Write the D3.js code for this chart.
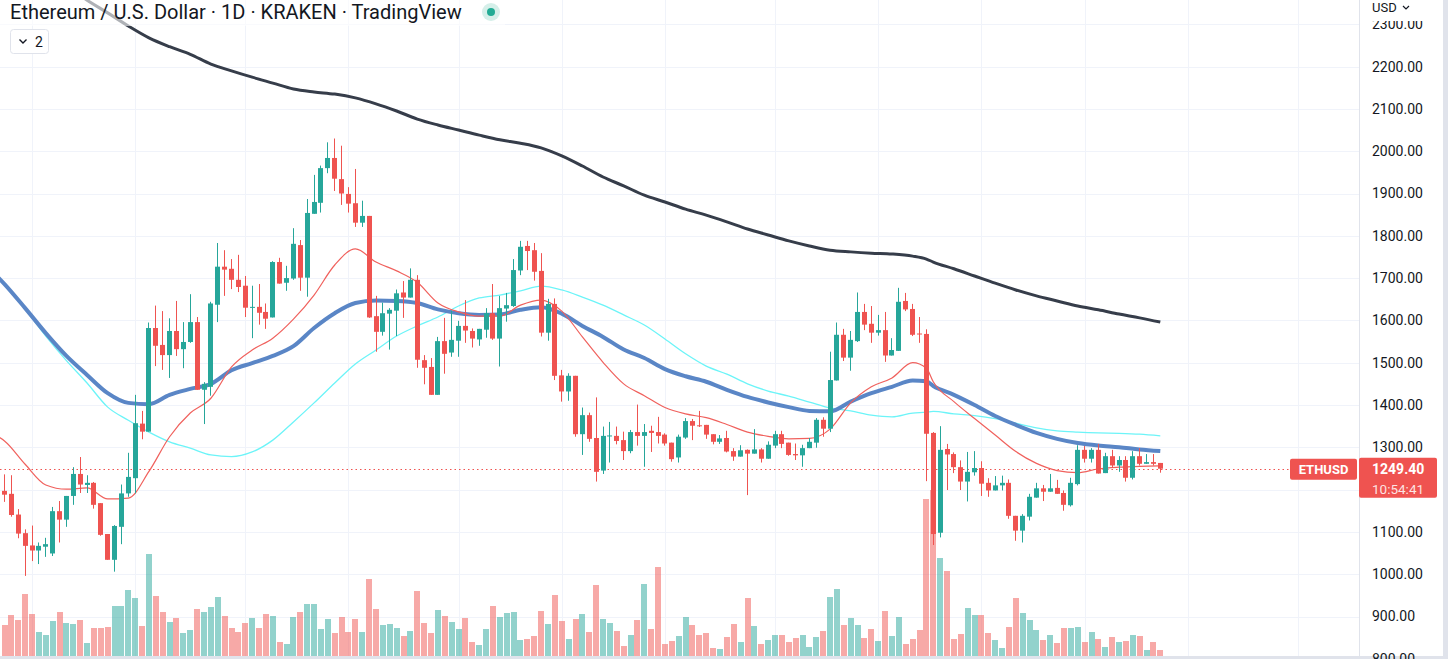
<!DOCTYPE html>
<html><head><meta charset="utf-8">
<script src="https://cdn.jsdelivr.net/npm/d3@7/dist/d3.min.js"></script>
<style>html,body{margin:0;padding:0;background:#fff;overflow:hidden}svg{display:block}</style>
</head><body><svg id="c" width="1448" height="659"></svg>
<script>
// ---- data (daily candles, ETH/USD Kraken) ----
const opens=[1197,1190,1141,1097,1068,1056,1065,1049,1149,1129,
1185,1237,1211,1216,1168,1095,1034,1112,1191,1227,
1356,1337,1582,1542,1518,1575,1532,1549,1596,1436,
1443,1637,1727,1722,1696,1682,1630,1632,1620,1607,
1738,1689,1699,1778,1701,1852,1878,1960,1984,1934,
1899,1877,1831,1847,1610,1573,1616,1623,1666,1654,
1696,1506,1490,1424,1551,1524,1552,1587,1575,1555,
1578,1617,1557,1628,1634,1718,1776,1766,1717,1571,
1639,1470,1432,1469,1331,1376,1322,1245,1327,1327,
1317,1291,1336,1327,1339,1336,1330,1311,1276,1323,
1362,1352,1353,1331,1313,1322,1291,1278,1294,1285,
1295,1273,1304,1331,1311,1284,1281,1298,1311,1365,
1344,1458,1566,1512,1551,1620,1592,1571,1577,1517,
1528,1646,1627,1569,1568,1334,1098,1296,1284,1253,
1219,1241,1251,1216,1198,1210,1216,1138,1103,1136,
1181,1203,1195,1204,1192,1163,1213,1294,1273,1294,
1239,1279,1257,1270,1228,1279,1261,1265,1263];
const highs=[1236,1234,1154,1106,1115,1075,1086,1159,1173,1185,
1253,1277,1234,1218,1168,1095,1116,1212,1287,1424,
1386,1595,1635,1622,1605,1646,1596,1662,1608,1454,
1644,1783,1766,1745,1755,1705,1682,1686,1640,1740,
1748,1729,1818,1790,1887,1944,1966,2021,2030,2013,
1915,1958,1883,1847,1658,1642,1629,1673,1693,1723,
1707,1518,1511,1561,1606,1623,1599,1648,1581,1580,
1629,1686,1658,1665,1745,1788,1788,1783,1759,1651,
1652,1483,1475,1469,1394,1382,1418,1349,1360,1349,
1337,1341,1401,1355,1351,1372,1333,1311,1330,1369,
1367,1386,1353,1331,1329,1339,1298,1305,1295,1343,
1298,1314,1339,1339,1311,1309,1306,1322,1369,1371,
1526,1595,1580,1575,1666,1639,1634,1613,1620,1558,
1677,1665,1639,1608,1579,1336,1350,1308,1288,1269,
1289,1291,1267,1227,1232,1233,1224,1138,1142,1190,
1216,1211,1237,1223,1198,1228,1305,1303,1298,1308,
1287,1294,1279,1279,1291,1298,1284,1284,1263];
const lows=[1171,1136,1085,996,1031,1024,1041,1043,1075,1112,
1164,1192,1192,1155,1091,1034,1006,1071,1183,1191,
1319,1337,1492,1483,1464,1516,1487,1547,1436,1355,
1422,1596,1658,1674,1667,1608,1558,1590,1580,1607,
1687,1670,1696,1670,1656,1852,1855,1948,1906,1873,
1855,1821,1821,1606,1526,1564,1531,1563,1606,1654,
1488,1449,1424,1424,1474,1514,1514,1547,1536,1540,
1559,1554,1491,1597,1632,1707,1719,1694,1562,1552,
1459,1408,1410,1325,1282,1313,1219,1237,1264,1307,
1270,1286,1304,1254,1289,1309,1304,1266,1264,1320,
1317,1348,1320,1307,1308,1288,1268,1278,1187,1285,
1264,1273,1298,1298,1280,1270,1254,1298,1299,1325,
1336,1458,1504,1481,1549,1577,1547,1564,1502,1517,
1528,1622,1563,1547,1220,1069,1087,1199,1239,1199,
1172,1233,1185,1183,1198,1198,1131,1079,1075,1127,
1181,1173,1195,1190,1150,1160,1210,1264,1264,1238,
1239,1252,1242,1219,1224,1257,1261,1257,1240];
const closes=[1188,1140,1096,1067,1056,1067,1071,1149,1129,1185,
1237,1212,1216,1164,1093,1034,1114,1191,1230,1357,
1337,1582,1540,1518,1575,1532,1549,1596,1436,1450,
1640,1727,1720,1696,1679,1630,1632,1618,1604,1738,
1687,1700,1781,1701,1854,1880,1960,1984,1935,1900,
1876,1831,1847,1607,1573,1617,1625,1664,1654,1696,
1507,1488,1424,1551,1521,1554,1587,1576,1557,1580,
1617,1557,1629,1636,1719,1774,1764,1715,1571,1639,
1469,1432,1469,1331,1376,1320,1242,1327,1328,1315,
1291,1336,1327,1336,1334,1327,1309,1272,1325,1362,
1351,1350,1330,1313,1321,1290,1278,1293,1285,1295,
1273,1306,1331,1308,1282,1281,1298,1313,1365,1344,
1459,1566,1512,1554,1620,1590,1571,1577,1517,1530,
1644,1626,1566,1567,1332,1095,1294,1283,1253,1219,
1242,1251,1214,1198,1210,1216,1138,1103,1138,1183,
1203,1195,1203,1190,1164,1216,1294,1273,1294,1238,
1279,1257,1270,1228,1279,1261,1265,1261,1249.4];
const volumes=[31,41,36,62,42,24,21,35,44,33,
32,36,13,28,28,29,50,50,66,58,
30,102,60,44,34,38,23,26,47,44,
49,59,40,28,24,33,38,28,42,40,
14,12,39,44,52,52,27,37,23,39,
24,37,24,77,47,31,32,28,20,25,
65,33,23,46,40,34,27,38,14,11,
27,50,39,43,44,16,17,20,45,32,
61,35,17,37,42,24,71,37,33,25,
10,21,36,72,27,89,12,15,20,39,
31,21,23,8,7,19,32,14,58,30,
12,16,21,21,14,18,21,9,19,25,
59,67,31,38,31,18,27,15,45,20,
39,12,17,26,157,166,98,85,17,22,
48,41,41,23,16,8,29,58,43,36,
26,16,21,13,28,28,29,14,24,17,
9,19,14,15,21,20,6,14,6];
// moving averages, sampled at candle indices (index -1 = the day before the first visible candle)
const maIdx=[-1,0,3,6,9,12,15,18,21,24,27,30,33,36,39,42,45,48,51,54,57,60,63,66,69,72,75,78,81,84,87,90,93,96,99,102,105,108,111,114,117,120,123,126,129,132,134,135,138,141,144,147,150,153,156,159,162,165,168];
const maRed=[1326,1315,1260,1211,1201,1204,1178,1180,1243,1325,1381,1416,1490,1530,1558,1603,1660,1731,1769,1738,1717,1690,1641,1620,1610,1610,1636,1648,1622,1561,1501,1450,1422,1394,1379,1370,1354,1336,1326,1320,1321,1343,1405,1443,1464,1500,1487,1455,1408,1368,1329,1290,1262,1245,1240,1249,1253,1255,1256];
const maBlue=[1703,1686,1629,1570,1516,1471,1428,1405,1402,1424,1438,1450,1482,1499,1516,1539,1582,1617,1641,1647,1646,1641,1626,1617,1613,1614,1625,1631,1616,1587,1561,1531,1511,1485,1468,1455,1436,1419,1406,1395,1386,1385,1408,1428,1443,1458,1456,1445,1424,1400,1374,1353,1334,1320,1310,1304,1300,1295,1291];
const maCyan=[1701,1684,1627,1563,1505,1452,1395,1364,1336,1313,1298,1282,1278,1289,1317,1360,1405,1452,1497,1530,1563,1587,1608,1634,1653,1660,1670,1681,1672,1655,1636,1613,1589,1556,1521,1492,1473,1450,1433,1421,1407,1393,1386,1376,1372,1381,1383,1385,1379,1375,1368,1357,1346,1339,1336,1334,1333,1331,1327];
const maDark=[2498,2487,2455,2424,2391,2357,2327,2296,2268,2247,2229,2206,2190,2175,2161,2147,2140,2135,2126,2112,2095,2076,2062,2050,2038,2027,2019,2008,1989,1965,1939,1918,1896,1880,1863,1849,1833,1816,1802,1788,1776,1766,1762,1759,1757,1752,1745,1738,1722,1705,1688,1672,1658,1646,1634,1625,1615,1606,1596];
const priceTicks=[800,900,1000,1100,1200,1300,1400,1500,1600,1700,1800,1900,2000,2100,2200,2300];
const timeGridIdx=[4,19,35,50,66,81,96,112,127,142,157,172,188];
const lastPrice=1249.40, countdown="10:54:41", symbol="ETHUSD";
const title="Ethereum / U.S. Dollar · 1D · KRAKEN · TradingView";

// ---- layout ----
const svg=d3.select('#c');
const plotW=1359, volBase=656;
const N=closes.length;
const x=d3.scaleLinear().domain([0,N-1]).range([4.5,1160.3]);
const y=d3.scaleLinear().domain([800,2300]).range([658.8,24.3]);
const yv=d3.scaleLinear().domain([0,200]).range([volBase,volBase-200]);
const UP='#26a69a', DN='#ef5350';
const font='Roboto, "Noto Sans", sans-serif';

svg.append('rect').attr('width',1448).attr('height',659).attr('fill','#fff');
svg.append('defs').append('clipPath').attr('id','plot').append('rect').attr('x',0).attr('y',0).attr('width',plotW).attr('height',volBase);

// grid
const grid=svg.append('g');
grid.selectAll('.hg').data(priceTicks).join('line')
  .attr('x1',0).attr('x2',plotW).attr('y1',d=>Math.round(y(d))+0.5).attr('y2',d=>Math.round(y(d))+0.5)
  .attr('stroke','#f0f3fa').attr('stroke-width',1);
grid.selectAll('.vg').data(timeGridIdx).join('line')
  .attr('y1',0).attr('y2',volBase).attr('x1',d=>Math.round(x(d))+0.5).attr('x2',d=>Math.round(x(d))+0.5)
  .attr('stroke','#f0f3fa').attr('stroke-width',1);

const plot=svg.append('g').attr('clip-path','url(#plot)');
const idx=d3.range(N);
const up=i=>closes[i]>=opens[i];

// volume
plot.append('g').selectAll('rect').data(idx).join('rect')
  .attr('x',i=>Math.round(x(i))-3).attr('width',6)
  .attr('y',i=>yv(volumes[i])).attr('height',i=>volBase-yv(volumes[i]))
  .attr('fill',i=>up(i)?UP:DN).attr('fill-opacity',0.5);

// moving averages
const line=vals=>d3.line().x((d,k)=>x(maIdx[k])).y(d=>y(d)).curve(d3.curveMonotoneX)(vals);
plot.append('path').attr('d',line(maDark)).attr('fill','none').attr('stroke','#363d4a').attr('stroke-width',3);
plot.append('path').attr('d',line(maCyan)).attr('fill','none').attr('stroke','#6cf4f8').attr('stroke-width',1.3);
plot.append('path').attr('d',line(maBlue)).attr('fill','none').attr('stroke','#5a86c6').attr('stroke-width',4);
plot.append('path').attr('d',line(maRed)).attr('fill','none').attr('stroke','#f0615d').attr('stroke-width',1.2);

// price line
plot.append('line').attr('x1',0).attr('x2',1290).attr('y1',Math.round(y(lastPrice))+0.5).attr('y2',Math.round(y(lastPrice))+0.5)
  .attr('stroke',DN).attr('stroke-width',1).attr('stroke-dasharray','1.5,3');

// candles
const cg=plot.append('g').selectAll('g').data(idx).join('g').attr('fill',i=>up(i)?UP:DN);
cg.append('rect').attr('x',i=>Math.round(x(i)-2.5)+2).attr('width',1)
  .attr('y',i=>y(highs[i])).attr('height',i=>Math.max(1,y(lows[i])-y(highs[i])));
cg.append('rect').attr('x',i=>Math.round(x(i)-2.5)).attr('width',5)
  .attr('y',i=>y(Math.max(opens[i],closes[i])))
  .attr('height',i=>Math.max(1,Math.abs(y(opens[i])-y(closes[i]))));

// bottom border
svg.append('rect').attr('x',0).attr('y',volBase).attr('width',1448).attr('height',3).attr('fill','#e0e3eb');

// right axis
svg.append('line').attr('x1',plotW+0.5).attr('x2',plotW+0.5).attr('y1',0).attr('y2',659).attr('stroke','#e0e3eb');
svg.append('rect').attr('x',1443).attr('y',0).attr('width',5).attr('height',659).attr('fill','#e0e3eb');
const ax=svg.append('g').attr('transform',`translate(${plotW},0)`)
  .call(d3.axisRight(y).tickValues(priceTicks).tickSize(0).tickPadding(13).tickFormat(d3.format('.2f')));
ax.select('.domain').remove();
ax.selectAll('text').attr('fill','#131722').style('font-family',font).style('font-size','14px');

// USD label (covers the top of the 2300 label, as in the app)
svg.append('rect').attr('x',plotW+1).attr('y',0).attr('width',82).attr('height',21).attr('fill','#fff');
svg.append('text').attr('x',1372).attr('y',12).text('USD').attr('fill','#131722').style('font-family',font).style('font-size','13px');
svg.append('path').attr('d','M1403,6 l3,3 l3,-3').attr('fill','none').attr('stroke','#131722').attr('stroke-width',1.2);

// last price labels
const ly=y(lastPrice);
svg.append('rect').attr('x',1290).attr('y',ly-10).attr('width',67).attr('height',21).attr('rx',2).attr('fill',DN);
svg.append('text').attr('x',1323.5).attr('y',ly+5).attr('text-anchor','middle').text(symbol)
  .attr('fill','#fff').style('font-family',font).style('font-size','13px').style('font-weight','bold');
svg.append('rect').attr('x',1359).attr('y',ly-11).attr('width',78).attr('height',40).attr('rx',2).attr('fill',DN);
svg.append('text').attr('x',1372).attr('y',ly+5).text(lastPrice.toFixed(2))
  .attr('fill','#fff').style('font-family',font).style('font-size','14px').style('font-weight','bold');
svg.append('text').attr('x',1372).attr('y',ly+25).text(countdown)
  .attr('fill','#fff').attr('fill-opacity',0.85).style('font-family',font).style('font-size','13.5px');

// title header
svg.append('rect').attr('x',0).attr('y',0).attr('width',505).attr('height',26).attr('fill','#fff').attr('fill-opacity',0.6);
const tt=svg.append('text').attr('x',10).attr('y',19).text(title).attr('fill','#131722')
  .style('font-family',font).style('font-size','18px');
const tw=tt.node().getComputedTextLength();
tt.style('font-size',(18*452/tw).toFixed(2)+'px');
svg.append('circle').attr('cx',491).attr('cy',12).attr('r',9).attr('fill','#d5efe9');
svg.append('circle').attr('cx',491).attr('cy',12).attr('r',4).attr('fill','#22ab94');

// legend toggle
svg.append('rect').attr('x',10.5).attr('y',29.5).attr('width',38).attr('height',24).attr('rx',3).attr('fill','#fff').attr('stroke','#e0e3eb');
svg.append('path').attr('d','M19.5,39.5 l3.5,3.5 l3.5,-3.5').attr('fill','none').attr('stroke','#131722').attr('stroke-width',1.4);
svg.append('text').attr('x',35).attr('y',47).text('2').attr('fill','#131722').style('font-family',font).style('font-size','14px');
</script></body></html>
